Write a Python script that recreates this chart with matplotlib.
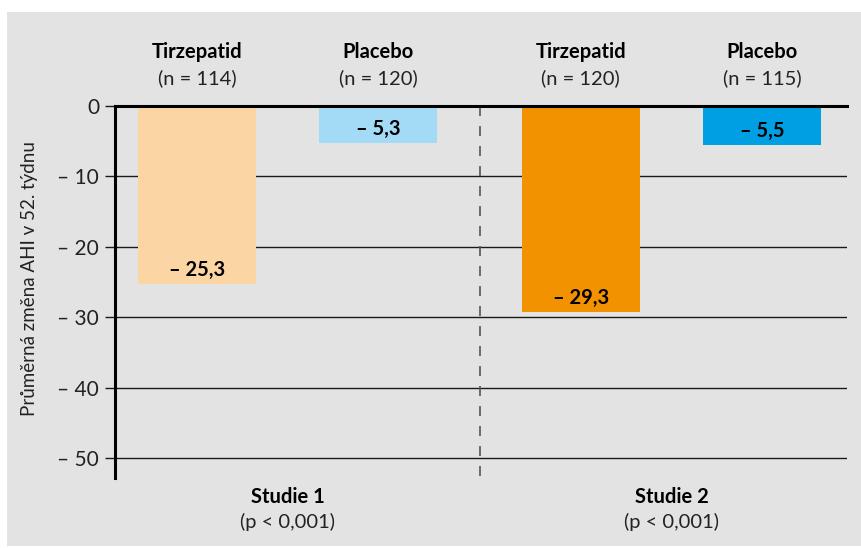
import matplotlib.pyplot as plt
from matplotlib.patches import Rectangle
from matplotlib.transforms import blended_transform_factory

# AHI change at week 52, two studies
arms = ["Tirzepatid", "Placebo", "Tirzepatid", "Placebo"]
n_patients = [114, 120, 120, 115]
ahi_change = [-25.3, -5.3, -29.3, -5.5]
studies = ["Studie 1", "Studie 2"]
p_values = ["(p < 0,001)", "(p < 0,001)"]
y_ticks = [0, -10, -20, -30, -40, -50]

positions = [0, 1, 2.12, 3.12]
bar_colors = ["#FCD5A4", "#A3DAF5", "#F39200", "#009FE3"]
BG = "#E3E3E3"

plt.rcParams['font.family'] = ['Lato', 'DejaVu Sans']
FS = 14.5


def cz(v, dec=1):
    # Czech style numbers: en dash with space, decimal comma
    s = f"{abs(v):.{dec}f}".replace(".", ",")
    return f"– {s}" if v < 0 else s


fig = plt.figure(figsize=(8.62, 5.48), dpi=100)
fig.patches.append(Rectangle((7 / 862, 2 / 548), 1 - 7 / 862, 1 - 14 / 548,
                             transform=fig.transFigure, facecolor=BG,
                             edgecolor="none", zorder=-10))

ax = fig.add_axes([115 / 862, 1 - 478 / 548, 732 / 862, 372 / 548])
ax.patch.set_alpha(0)

ax.bar(positions, ahi_change, width=0.652, color=bar_colors, zorder=2)

ax.set_xlim(-0.453, 3.59)
ax.set_ylim(-52.85, 0)

for t in y_ticks[1:]:
    ax.axhline(t, color="#1a1a1a", lw=1.0, zorder=1)
ax.axhline(0, color="black", lw=2.2, zorder=3, clip_on=False)

# divider between the two studies
ax.plot([1.564, 1.564], [0, -52.85], color="#555555", lw=1.2,
        dashes=(6, 6), zorder=1, clip_on=False)

for s in ["top", "right", "bottom"]:
    ax.spines[s].set_visible(False)
ax.spines["left"].set_linewidth(2.2)
ax.spines["left"].set_color("black")

ax.set_xticks([])
ax.set_yticks(y_ticks)
ax.set_yticklabels([cz(t, 0) for t in y_ticks], fontsize=FS + 0.5,
                   color="#222222")
ax.tick_params(axis="y", length=7.5, width=1.0, pad=4, color="#1a1a1a")

# value labels inside the bar ends
for x, v in zip(positions, ahi_change):
    ax.annotate(cz(v), (x, v), xytext=(0, 3), textcoords="offset points",
                ha="center", va="bottom", fontsize=FS, fontweight="bold")

tr = blended_transform_factory(ax.transData, fig.transFigure)
for x, arm, n in zip(positions, arms, n_patients):
    ax.text(x, 1 - 52 / 548, arm, transform=tr, ha="center", va="center",
            fontsize=FS, fontweight="bold")
    ax.text(x, 1 - 78 / 548, f"(n = {n})", transform=tr, ha="center",
            va="center", fontsize=FS, color="#222222")

for i, (name, p) in enumerate(zip(studies, p_values)):
    xc = (positions[2 * i] + positions[2 * i + 1]) / 2
    ax.text(xc, 1 - 497 / 548, name, transform=tr, ha="center", va="center",
            fontsize=FS, fontweight="bold")
    ax.text(xc, 1 - 522 / 548, p, transform=tr, ha="center", va="center",
            fontsize=FS, color="#222222")

fig.text(30 / 862, 1 - 279 / 548, "Průměrná změna AHI v 52. týdnu",
         rotation=90, ha="center", va="center", fontsize=13.5,
         color="#222222")

fig.savefig("out.png", dpi=100, facecolor="white")
